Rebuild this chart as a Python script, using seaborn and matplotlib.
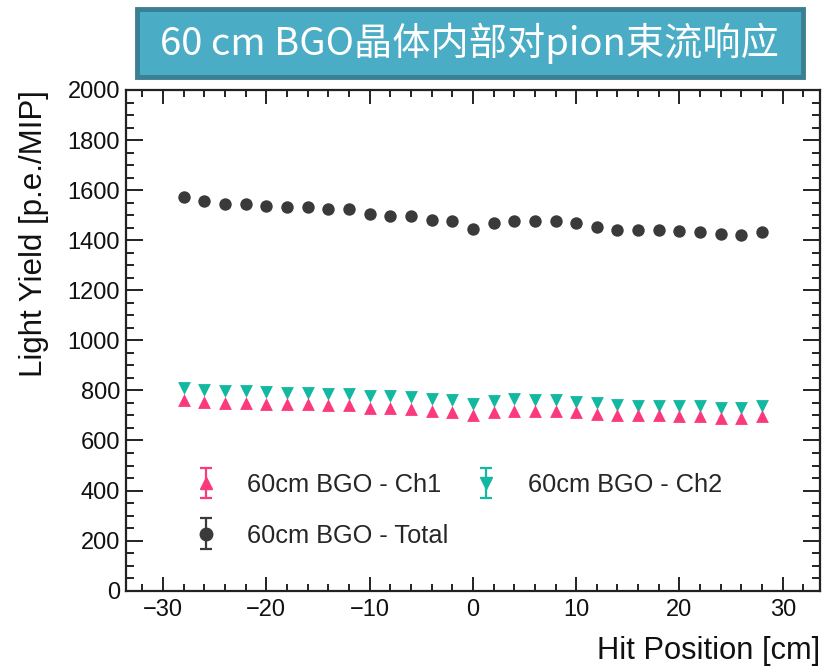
import numpy as np
import pandas as pd
import matplotlib
matplotlib.use("Agg")
import matplotlib.pyplot as plt
from matplotlib.patches import FancyBboxPatch
from matplotlib.ticker import MultipleLocator
from matplotlib.legend_handler import HandlerErrorbar
from matplotlib.container import ErrorbarContainer
import seaborn as sns

# Hit positions along the crystal [cm]
position = [-28, -26, -24, -22, -20, -18, -16, -14, -12, -10, -8, -6, -4, -2,
            0, 2, 4, 6, 8, 10, 12, 14, 16, 18, 20, 22, 24, 26, 28]

# Light yield per channel [p.e./MIP]
ch1 = [762, 753, 749, 749, 745, 744, 746, 742, 741, 731, 728, 726, 718, 715,
       703, 712, 717, 716, 716, 713, 707, 701, 700, 700, 699, 699, 689, 689, 696]
ch2 = [809, 802, 798, 796, 793, 789, 790, 786, 785, 778, 776, 772, 765, 763,
       746, 756, 765, 762, 762, 754, 749, 740, 738, 738, 736, 736, 728, 728, 738]
total = [1574, 1557, 1544, 1544, 1538, 1532, 1534, 1525, 1525, 1506, 1498, 1496, 1481, 1478,
         1445, 1470, 1478, 1476, 1476, 1469, 1454, 1440, 1439, 1439, 1436, 1433, 1423, 1420, 1434]

labels = ["60cm BGO - Ch1", "60cm BGO - Ch2", "60cm BGO - Total"]
title = "60 cm BGO晶体内部对pion束流响应"

PINK = "#FB3A7E"
TEAL = "#12B8A0"
DARK = "#3A3A3A"

sns.set_theme(style="ticks")
plt.rcParams["font.family"] = ["Liberation Sans", "DejaVu Sans"]
plt.rcParams["axes.unicode_minus"] = True

W, H = 823, 667
fig = plt.figure(figsize=(W / 100, H / 100), dpi=100)
ax = fig.add_axes([125.7 / W, 1 - 590.7 / H, (820 - 125.7) / W, (590.7 - 90) / H])

df = pd.DataFrame({"pos": position, "ch1": ch1, "ch2": ch2, "total": total})

sns.scatterplot(data=df, x="pos", y="total", ax=ax, color=DARK, marker="o",
                s=80, linewidth=0, legend=False, zorder=3)
sns.scatterplot(data=df, x="pos", y="ch2", ax=ax, color=TEAL, marker="v",
                s=85, linewidth=0, legend=False, zorder=3)
sns.scatterplot(data=df, x="pos", y="ch1", ax=ax, color=PINK, marker="^",
                s=85, linewidth=0, legend=False, zorder=3)

ax.set_xlim(-33.6, 33.6)
ax.set_ylim(0, 2000)

ax.xaxis.set_major_locator(MultipleLocator(10))
ax.xaxis.set_minor_locator(MultipleLocator(2))
ax.yaxis.set_major_locator(MultipleLocator(200))
ax.yaxis.set_minor_locator(MultipleLocator(50))

for side in ["left", "right", "top", "bottom"]:
    ax.spines[side].set_visible(True)
    ax.spines[side].set_linewidth(1.6)
    ax.spines[side].set_color("#222222")

ax.tick_params(axis="both", which="both", direction="in", top=True, right=True,
               color="#222222", width=1.4, labelsize=17, labelcolor="#111111")
ax.tick_params(axis="x", which="major", length=10, pad=6)
ax.tick_params(axis="x", which="minor", length=5)
ax.tick_params(axis="y", which="major", length=12, pad=4)
ax.tick_params(axis="y", which="minor", length=6)

ax.set_xlabel("Hit Position [cm]", fontsize=22.2, loc="right", color="#111111", labelpad=10.5)
ax.set_ylabel("Light Yield [p.e./MIP]", fontsize=22.5, loc="top", color="#111111", labelpad=13)

# Legend entries drawn as error-bar glyphs
eb_kw = dict(capsize=4, elinewidth=1.6, capthick=1.6, ms=9)
h1 = ax.errorbar([np.nan], [np.nan], yerr=[1], fmt="^", color=PINK, **eb_kw)
h2 = ax.errorbar([np.nan], [np.nan], yerr=[1], fmt="v", color=TEAL, **eb_kw)
h3 = ax.errorbar([np.nan], [np.nan], yerr=[1], fmt="o", color=DARK, **eb_kw)
ax.legend([h1, h3, h2], [labels[0], labels[2], labels[1]], ncol=2, frameon=False,
          fontsize=18.3, loc="upper left", bbox_to_anchor=(0.064, 0.281),
          handlelength=1.0, handletextpad=1.14, columnspacing=0.96, labelspacing=1.05,
          handler_map={ErrorbarContainer: HandlerErrorbar(xerr_size=0.3, yerr_size=0.6)})

# Title banner
box = FancyBboxPatch((137 / W, 1 - 77 / H), (803 - 137) / W, (77 - 9) / H,
                     boxstyle="square,pad=0", transform=fig.transFigure,
                     facecolor="#4BACC6", edgecolor="#3B7F93", linewidth=3.5,
                     zorder=5)
fig.patches.append(box)
fig.text(469 / W, 1 - 43 / H, title, transform=fig.transFigure, ha="center", va="center",
         fontsize=27.5, color="white", family=["Noto Sans CJK SC", "DejaVu Sans"], zorder=6)

fig.savefig("out.png", dpi=100)
